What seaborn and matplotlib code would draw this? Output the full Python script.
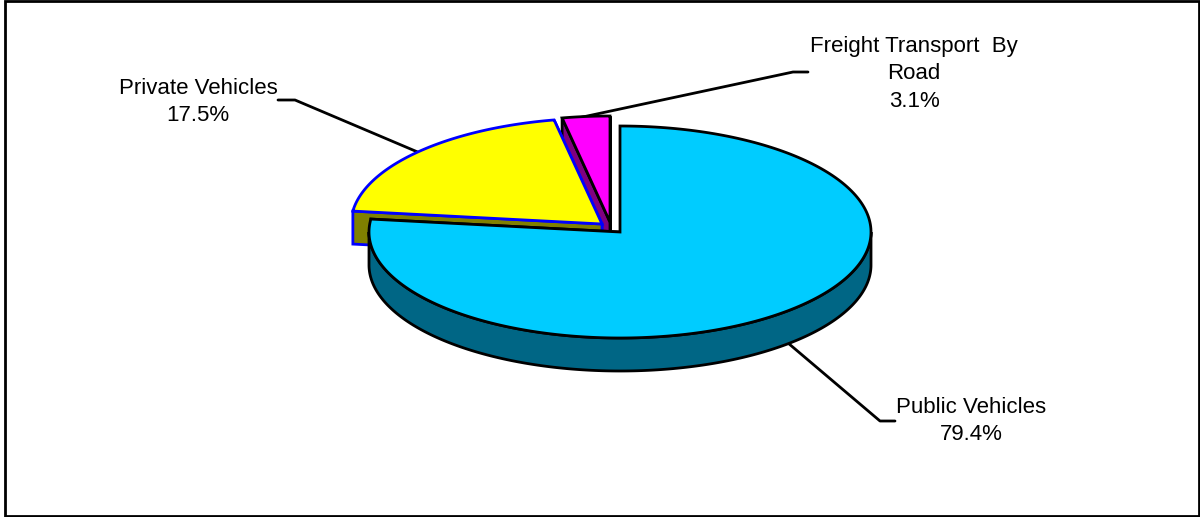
import numpy as np
import matplotlib
matplotlib.use("Agg")
import matplotlib.pyplot as plt
import seaborn as sns
from matplotlib.patches import Polygon, Rectangle

# chart values (order as drawn in the excel pie, clockwise from 12 o'clock)
categories = ["Freight Transport  By\nRoad", "Private Vehicles", "Public Vehicles"]
shares = [3.1, 17.5, 79.4]

top_colors = ["#FF00FF", "#FFFF00", "#00CCFF"]
wall_colors = ["#800080", "#808000", "#006685"]
edge_colors = ["black", "#0000FF", "black"]

# pie geometry in pixels
CX, CY = 620, 232
RX, RY = 251, 106
DEPTH = 33
EXPLODE = [(-10, -10), (-18, -8), (0, 0)]
LABEL_POS = [(914, 45), (198, 87), (971, 406)]
LEADERS = [
    ([808, 793, 578], [72, 72, 118]),
    ([278, 295, 420], [100, 100, 153]),
    ([788, 880, 895], [343, 421, 421]),
]
LW = 2.0

sns.set_theme(style="white")
plt.rcParams["font.family"] = ["Liberation Sans", "DejaVu Sans"]


def project(angle):
    # the 3d view squeezes the slices a bit on the left side
    return np.interp(angle, [90, 101.16, 164.16, 450], [90, 101, 173, 450])


def rim(a0, a1, cx, cy, dy=0):
    t = np.radians(np.linspace(a0, a1, 240))
    return np.column_stack([cx + RX * np.cos(t), cy + dy - RY * np.sin(t)])


def draw_slice(ax, a0, a1, off, top, wall, edge):
    cx, cy = CX + off[0], CY + off[1]
    a0, a1 = project(a0), project(a1)

    # cut faces first
    for a in (a0, a1):
        p = rim(a, a, cx, cy)[0]
        face = [(cx, cy), p, (p[0], p[1] + DEPTH), (cx, cy + DEPTH)]
        ax.add_patch(Polygon(face, fc=wall, ec=edge, lw=LW, joinstyle="miter", zorder=ax.zorder_next()))

    # outer wall, only the part of the rim which faces the viewer
    lo, hi = max(a0, 180), min(a1, 360)
    if hi > lo:
        upper = rim(lo, hi, cx, cy)
        lower = rim(lo, hi, cx, cy, DEPTH)[::-1]
        ax.add_patch(Polygon(np.vstack([upper, lower]), fc=wall, ec=edge, lw=LW, zorder=ax.zorder_next()))

    pts = np.vstack([[(cx, cy)], rim(a0, a1, cx, cy)])
    ax.add_patch(Polygon(pts, fc=top, ec=edge, lw=LW, joinstyle="miter", zorder=ax.zorder_next()))


fig = plt.figure(figsize=(12, 5.17), dpi=100, facecolor="white")
ax = fig.add_axes([0, 0, 1, 1])

# small counter so the patches stack in drawing order
_z = iter(range(3, 100))
ax.zorder_next = lambda: next(_z)

# leader lines go under the slices
for (lx, ly) in LEADERS:
    sns.lineplot(x=lx, y=ly, ax=ax, color="black", lw=LW, sort=False, estimator=None, legend=False, zorder=2)
ax.set_xlim(0, 1200)
ax.set_ylim(517, 0)
ax.axis("off")

start = 90.0
for i, share in enumerate(shares):
    end = start + share * 3.6
    draw_slice(ax, start, end, EXPLODE[i], top_colors[i], wall_colors[i], edge_colors[i])
    start = end

for name, share, (tx, ty) in zip(categories, shares, LABEL_POS):
    ax.text(tx, ty - 9, f"{name}\n{share:.1f}%", ha="center", va="top", fontsize=16,
            color="black", linespacing=1.4, zorder=200)

# chart area frame
ax.add_patch(Rectangle((5, 1), 1194, 514.5, fc="none", ec="black", lw=LW, zorder=201, clip_on=False))

fig.savefig("out.png", dpi=100)
